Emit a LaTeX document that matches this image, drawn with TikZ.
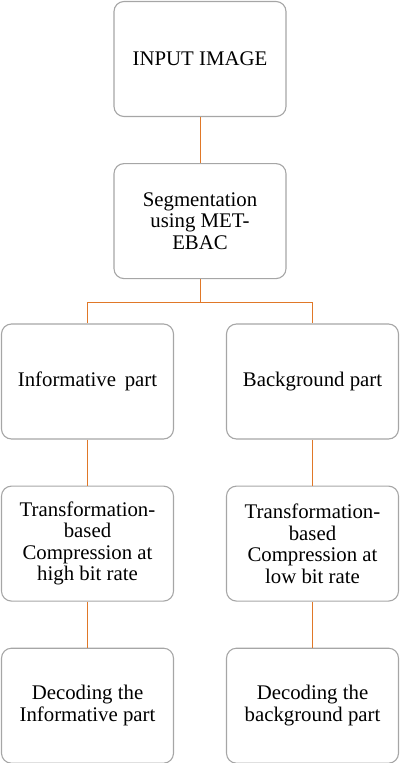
\documentclass[tikz,border=0pt]{standalone}
\usepackage{fontspec}
\setmainfont{Liberation Serif}
\usetikzlibrary{positioning}

\definecolor{boxgray}{HTML}{A6A6A6}
\definecolor{linkorange}{HTML}{E07828}

\begin{document}
\begin{tikzpicture}[x=1pt, y=-1pt, node distance=46pt,
    blk/.style={draw=boxgray, line width=1.1pt, rounded corners=10pt,
        minimum width=172pt, minimum height=115pt, align=center,
        font=\fontsize{20.8}{21.5}\selectfont, inner sep=2pt},
    link/.style={draw=linkorange, line width=0.9pt}]
    \useasboundingbox (0,0) rectangle (400,763);

    \node[blk] (inp) at (200,59) {INPUT IMAGE};
    \node[blk] (seg) [below=of inp] {Segmentation\\using MET-\\EBAC};
    \node[blk] (info) at (87.5,381.5) {Informative\, part};
    \node[blk] (back) at (312.5,381.5) {Background part};
    \node[blk] (tinfo) [below=of info] {Transformation-\\based\\Compression at\\high bit rate};
    \node[blk] (tback) [below=of back] {Transformation-\\based\\Compression at\\low bit rate};
    \node[blk] (dinfo) [below=of tinfo] {Decoding the\\Informative part};
    \node[blk] (dback) [below=of tback] {Decoding the\\background part};

    % liaisons
    \coordinate (split) at ([yshift=-23pt]seg.south);
    \draw[link] (inp) -- (seg);
    \draw[link] (seg) -- (split);
    \draw[link] (split) -| (info);
    \draw[link] (split) -| (back);
    \draw[link] (info) -- (tinfo);
    \draw[link] (back) -- (tback);
    \draw[link] (tinfo) -- (dinfo);
    \draw[link] (tback) -- (dback);
\end{tikzpicture}
\end{document}
